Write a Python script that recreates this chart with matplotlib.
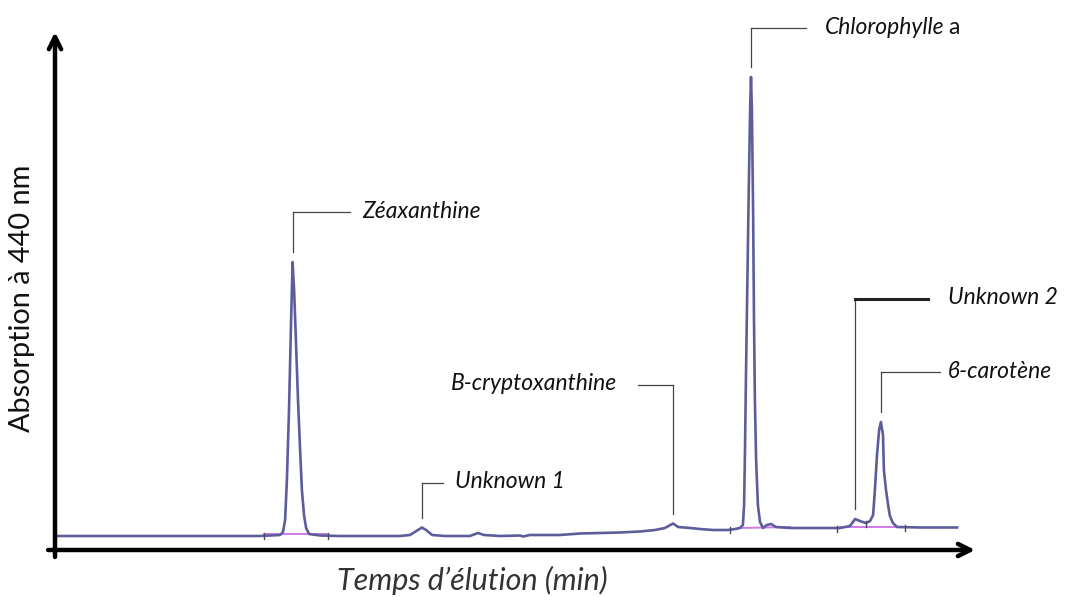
import matplotlib
matplotlib.use("Agg")
import matplotlib.pyplot as plt
import numpy as np

# Chromatogram trace: retention time (min) and absorbance at 440 nm (mAU)
time_min = [0.10, 6.83, 7.17, 7.50, 7.60, 7.67, 7.73, 7.80, 7.87, 7.92, 7.97, 8.03, 8.10,
            8.17, 8.23, 8.30, 8.37, 8.47, 8.83, 9.50, 11.50, 11.83, 12.10, 12.23, 12.37,
            12.57, 13.00, 13.83, 14.10, 14.30, 14.83, 15.50, 15.60, 15.83, 16.83, 17.50,
            18.17, 18.83, 19.50, 20.00, 20.33, 20.60, 20.77, 21.17, 21.50, 21.93, 22.43,
            22.67, 22.83, 22.93, 22.97, 23.00, 23.03, 23.07, 23.12, 23.17, 23.20, 23.23,
            23.27, 23.30, 23.33, 23.37, 23.43, 23.50, 23.60, 23.73, 23.87, 24.03, 24.50,
            25.50, 26.17, 26.50, 26.67, 26.83, 27.03, 27.17, 27.27, 27.33, 27.40, 27.47,
            27.53, 27.60, 27.63, 27.70, 27.77, 27.83, 27.93, 28.07, 28.83, 30.07]
absorbance = [7.0, 7.0, 7.25, 7.5, 9, 15, 35, 70, 115, 144, 130, 105, 75,
              50, 30, 17.5, 11, 8, 7.25, 7.0, 7.0, 7.5, 10, 11.25, 10,
              7.5, 7.0, 7.0, 8.5, 7.5, 7.0, 7.25, 6.75, 7.5, 7.5, 8.25,
              8.5, 8.75, 9.25, 10, 11, 13.25, 11.5, 11, 10.5, 10, 10,
              10.5, 11, 12.5, 22.5, 50, 85, 125, 175, 220, 236.5, 220,
              170, 115, 75, 45, 22.5, 14, 11, 12.5, 13, 11.5, 11,
              11, 11, 12, 15.5, 14.5, 13.5, 14.5, 17.5, 30, 47.5, 60,
              64, 57.5, 40, 30, 22.5, 17, 13.5, 11.5, 11.25, 11.25]

# Identified compounds
peak_names = ["Zéaxanthine", "Unknown 1", "B-cryptoxanthine",
              "Chlorophylle a", "Unknown 2", "ϐ-carotène"]
peak_times = [7.92, 12.23, 20.60, 23.20, 26.67, 27.53]

# Integration baselines (start time, end time, levels) and integration marks
baseline_segments = [(6.97, 9.10, 8.0, 8.0), (22.83, 24.50, 11.0, 11.5), (26.17, 28.17, 11.5, 11.5)]
integration_marks = [6.97, 9.10, 22.50, 26.07, 27.03, 28.33]

# Label layout: label level, horizontal leader end, text anchor
label_levels = [169, 33.5, 82.5, 261, 125.5, 89]
leader_ends = [9.83, 12.93, 19.43, 25.03, 29.10, 29.50]
text_x = [10.23, 13.33, 18.73, 25.67, 29.77, 29.77]
text_ha = ["left", "left", "right", "left", "left", "left"]
leader_lw = [0.9, 0.9, 0.9, 0.9, 2.2, 0.9]

W, H = 1065, 597
fig = plt.figure(figsize=(W / 100, H / 100), dpi=100)
ax = fig.add_axes([0, 0, 1, 1])
ax.set_xlim(-55 / 30, (W - 55) / 30)
ax.set_ylim(-47 / 2, 550 / 2)
ax.axis("off")

trace_color = "#5d5d9c"
ax.plot(time_min, absorbance, color=trace_color, lw=1.9, solid_joinstyle="round", zorder=3)

for t0, t1, a0, a1 in baseline_segments:
    ax.plot([t0, t1], [a0, a1], color="#d27be6", lw=1.4, zorder=2)

for t in integration_marks:
    a = np.interp(t, time_min, absorbance)
    ax.plot([t, t], [a - 1.8, a + 1.2], color="#4a4a70", lw=1.0, zorder=4)

# Axes drawn as arrows
arrow_kw = dict(arrowstyle="->", lw=3.2, color="black", mutation_scale=22,
                shrinkA=0, shrinkB=0)
ax.annotate("", xy=(0, 259), xytext=(0, -3.5), arrowprops=arrow_kw)
ax.annotate("", xy=(30.67, 0), xytext=(-0.23, 0), arrowprops=arrow_kw)

# Peak labels with leader lines
label_size = 16.5
italic = dict(family="Lato", style="italic", fontsize=label_size, color="#111111")
for name, t, lvl, end, tx, ha, lw in zip(peak_names, peak_times, label_levels,
                                         leader_ends, text_x, text_ha, leader_lw):
    apex = np.interp(t, time_min, absorbance)
    ax.plot([t, t], [apex + 5, lvl], color="#444444", lw=0.9, zorder=5)
    ax.plot([t, end], [lvl, lvl], color="#222222" if lw > 1 else "#444444", lw=lw, zorder=5)
    if name == "Chlorophylle a":
        txt = ax.text(tx, lvl + 0.5, "Chlorophylle", ha="left", va="center", **italic)
        fig.canvas.draw()
        bb = txt.get_window_extent()
        x_end = ax.transData.inverted().transform((bb.x1, bb.y0))[0]
        ax.text(x_end + 0.12, lvl + 0.5, "a", ha="left", va="center",
                family="Lato", fontsize=label_size, color="#111111")
    else:
        ax.text(tx, lvl + 0.5, name, ha=ha, va="center", **italic)

# Axis titles
ax.text(-1.1, 126, "Absorption à 440 nm", rotation=90, ha="center", va="center",
        family="Lato", fontsize=20.8, color="#111111")
ax.text(13.9, -15, "Temps d\u2019élution (min)", ha="center", va="center",
        family="Lato", style="italic", fontsize=22, color="#333333")

fig.savefig("out.png", dpi=100)
